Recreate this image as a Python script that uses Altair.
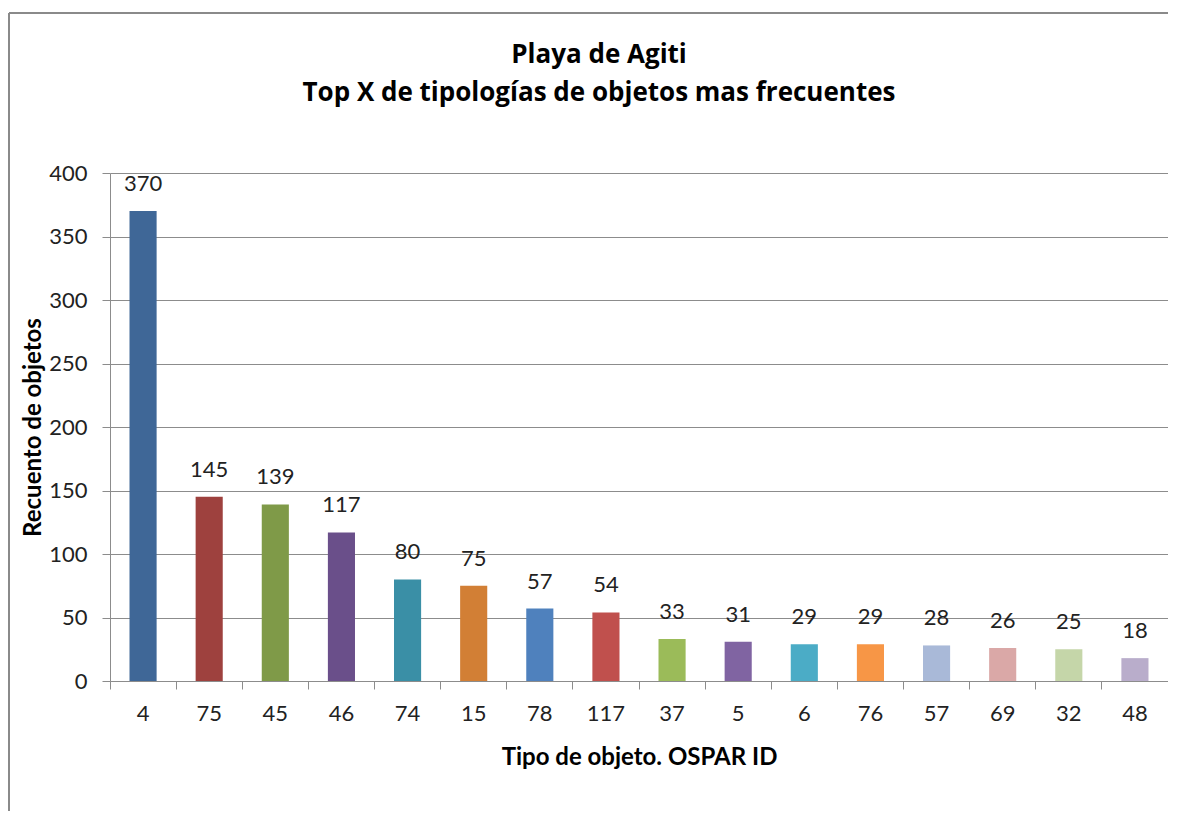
import altair as alt
import pandas as pd

ids = ["4", "75", "45", "46", "74", "15", "78", "117", "37", "5", "6", "76", "57", "69", "32", "48"]
counts = [370, 145, 139, 117, 80, 75, 57, 54, 33, 31, 29, 29, 28, 26, 25, 18]
colors = ["#3F6797", "#9E413E", "#7F9A48", "#6A4F8A", "#3A8FA6", "#D27F35",
          "#4F81BD", "#C0504D", "#9BBB59", "#8064A2", "#4BACC6", "#F79646",
          "#A9B9D8", "#DAA8A7", "#C5D6A9", "#B9ADCB"]
title_lines = ["Playa de Agiti", "Top X de tipologías de objetos mas frecuentes"]
y_ticks = [0, 50, 100, 150, 200, 250, 300, 350, 400]

df = pd.DataFrame({"id": ids, "count": counts})

FONT = "Lato"
GRID = "#8c8c8c"

x_enc = alt.X("id:N", sort=ids,
              scale=alt.Scale(paddingInner=0, paddingOuter=0),
              axis=alt.Axis(title="Tipo de objeto. OSPAR ID", labelAngle=0, bandPosition=0,
                            tickSize=8, labelPadding=14, titlePadding=21,
                            domainColor=GRID, tickColor=GRID))
y_enc = alt.Y("count:Q", scale=alt.Scale(domain=[0, 400]),
              axis=alt.Axis(title="Recuento de objetos", values=y_ticks, tickSize=8,
                            labelPadding=15, titlePadding=3, gridColor=GRID,
                            domainColor=GRID, tickColor=GRID))

bars = alt.Chart(df).mark_bar(width=alt.RelativeBandSize(0.41)).encode(
    x=x_enc, y=y_enc,
    color=alt.Color("id:N", scale=alt.Scale(domain=ids, range=colors), legend=None),
)
labels = alt.Chart(df).mark_text(dy=-27, baseline="middle", fontSize=22, font=FONT, color="#222").encode(
    x=alt.X("id:N", sort=ids), y="count:Q", text="count:Q"
)
left_border = alt.Chart(df).mark_rule(color="#8a8a8a", strokeWidth=2).encode(
    x=alt.value(-101), y=alt.value(-160), y2=alt.value(700))
top_border = alt.Chart(df).mark_rule(color="#8a8a8a", strokeWidth=2).encode(
    x=alt.value(-101), x2=alt.value(1100), y=alt.value(-160))

chart = alt.layer(bars, labels, left_border, top_border).properties(
    width=1058, height=508,
    title=alt.TitleParams(text=title_lines, fontSize=26, lineHeight=38, font="Open Sans",
                          fontWeight="bold", color="#000", anchor="middle", dx=-40, offset=-94),
    autosize=alt.AutoSizeParams(type="none"),
    padding={"left": 102, "top": 165, "right": 0, "bottom": 130},
).configure_view(stroke=None).configure_axis(
    labelFont=FONT, titleFont=FONT, labelFontSize=22, titleFontSize=24,
    labelColor="#222", titleColor="#000", titleFontWeight="bold", grid=False
).configure_axisY(grid=True)

chart.save("out.html", embed_options={"renderer": "svg", "actions": False})
